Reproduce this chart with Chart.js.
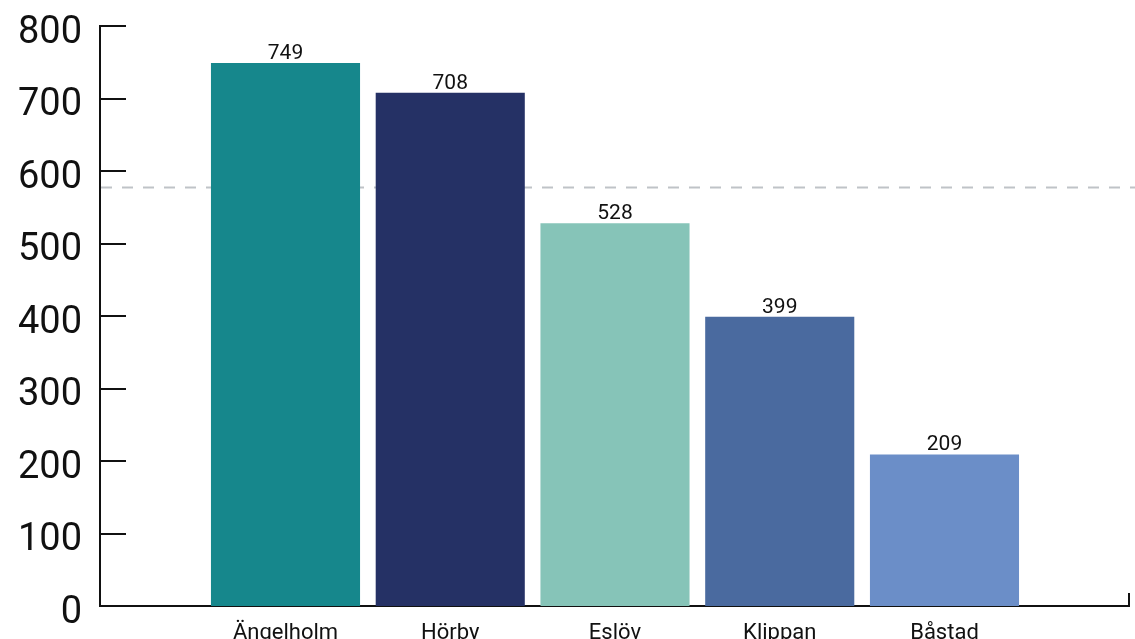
<!DOCTYPE html>
<html>
<head>
<meta charset="utf-8">
<script src="https://cdn.jsdelivr.net/npm/chart.js@4/dist/chart.umd.min.js"></script>
<style>
  html, body { margin: 0; padding: 0; background: #fff; }
  #wrap { width: 1135px; height: 639px; }
</style>
</head>
<body>
<div id="wrap"><canvas id="myChart"></canvas></div>
<script>
const categories = ['Ängelholm', 'Hörby', 'Eslöv', 'Klippan', 'Båstad']
const values = [749, 708, 528, 399, 209]
const colors = ['#16878c', '#253165', '#86c4b8', '#4a6a9f', '#6b8ec8']
const yTicks = [0, 100, 200, 300, 400, 500, 600, 700, 800]
const referenceValue = 578

const ctx = document.getElementById('myChart');

// tick marks inside the axes, value labels and the dashed reference line
const extras = {
  id: 'extras',
  beforeDatasetsDraw(chart) {
    const c = chart.ctx, area = chart.chartArea, y = chart.scales.y
    const py = Math.round(y.getPixelForValue(referenceValue)) + 0.5
    c.save()
    c.strokeStyle = '#bfc3c7'
    c.lineWidth = 2
    c.setLineDash([11, 10])
    c.beginPath()
    c.moveTo(area.left + 1, py)
    c.lineTo(chart.width, py)
    c.stroke()
    c.restore()
  },
  afterDatasetsDraw(chart) {
    const c = chart.ctx, area = chart.chartArea, y = chart.scales.y
    c.save()
    c.strokeStyle = '#111'
    c.lineWidth = 2
    yTicks.forEach(t => {
      const py = Math.round(y.getPixelForValue(t))
      c.beginPath()
      c.moveTo(area.left, py)
      c.lineTo(area.left + 26, py)
      c.stroke()
    })
    c.beginPath()
    c.moveTo(area.right, area.bottom)
    c.lineTo(area.right, area.bottom - 13)
    c.stroke()

    c.fillStyle = '#111'
    c.font = '21px Roboto'
    c.textAlign = 'center'
    c.textBaseline = 'alphabetic'
    chart.getDatasetMeta(0).data.forEach((bar, i) => {
      c.fillText(values[i], bar.x, bar.y - 4)
    })
    c.restore()
  }
}

new Chart(ctx, {
  type: 'bar',
  data: {
    datasets: [{
      data: categories.map((c, i) => ({ x: i, y: values[i] })),
      backgroundColor: colors,
      categoryPercentage: 1,
      barPercentage: 0.905
    }]
  },
  options: {
    responsive: true,
    maintainAspectRatio: false,
    animation: false,
    layout: { padding: { top: 26, right: 6, left: 0, bottom: 0 } },
    plugins: { legend: { display: false }, tooltip: { enabled: false } },
    scales: {
      x: {
        type: 'linear',
        offset: false,
        min: -1.126,
        max: 5.12,
        grid: { display: false },
        border: { display: true, color: '#111', width: 2 },
        afterBuildTicks: scale => { scale.ticks = categories.map((c, i) => ({ value: i })) },
        afterFit: scale => {
          scale.height = 33
          scale.paddingLeft = 0
          scale.paddingRight = 0
        },
        ticks: {
          autoSkip: false,
          maxRotation: 0,
          padding: 6,
          color: '#111',
          font: { family: 'Roboto', size: 22 },
          callback: v => categories[v]
        }
      },
      y: {
        min: 0,
        max: 800,
        grid: { display: false },
        border: { display: true, color: '#111', width: 2 },
        afterBuildTicks: scale => { scale.ticks = yTicks.map(v => ({ value: v })) },
        afterFit: scale => {
          scale.width = 100
          scale.paddingTop = 0
          scale.paddingBottom = 0
        },
        ticks: {
          padding: 10,
          labelOffset: 7,
          color: '#111',
          font: { family: 'Roboto', size: 38 }
        }
      }
    }
  },
  plugins: [extras]
})
</script>
</body>
</html>
